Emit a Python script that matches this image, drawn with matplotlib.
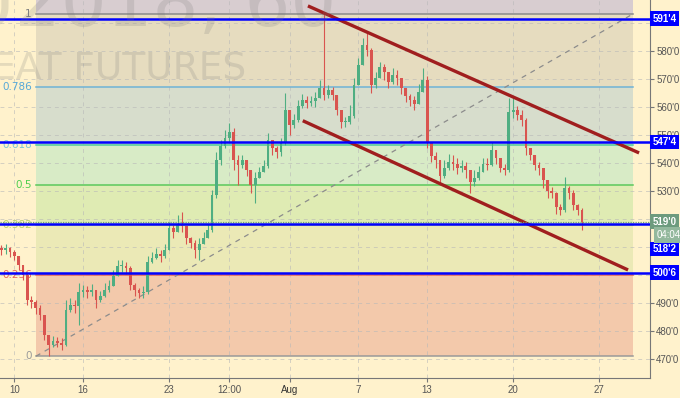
import numpy as np
import matplotlib.pyplot as plt
from matplotlib.transforms import blended_transform_factory

# price bars (roughly one bar per quarter of a trading day)
closes = [508.9, 509.6, 508.2, 506.8, 503.6, 500.0, 491.1, 490.4, 488.2, 485.7,
          478.6, 475.0, 476.4, 475.7, 475.0, 487.5, 489.3, 488.9, 493.9, 494.6,
          493.9, 494.6, 491.1, 492.5, 494.6, 496.1, 499.6, 503.2, 503.2, 502.5,
          496.4, 494.6, 493.6, 493.9, 504.6, 506.1, 507.5, 506.8, 508.9, 516.8,
          515.4, 518.2, 517.5, 513.2, 511.4, 508.9, 511.1, 513.2, 516.1, 528.6,
          541.1, 546.1, 548.9, 551.1, 541.1, 539.3, 541.1, 537.5, 532.1, 534.6,
          536.8, 538.9, 548.2, 545.4, 543.9, 547.5, 558.9, 553.6, 555.4, 560.4,
          562.5, 561.4, 562.1, 563.2, 566.8, 564.3, 566.1, 564.3, 558.9, 554.6,
          554.6, 556.8, 567.9, 575.0, 582.1, 580.4, 567.9, 570.4, 574.3, 572.5,
          568.9, 571.4, 570.4, 566.8, 564.0, 562.5, 561.1, 565.4, 569.6, 547.5,
          542.5, 541.1, 535.4, 538.2, 540.4, 539.6, 538.2, 538.9, 537.5, 533.2,
          534.6, 536.8, 539.6, 539.3, 544.6, 541.8, 538.2, 537.5, 558.2, 558.9,
          557.1, 555.4, 545.4, 542.9, 539.3, 538.2, 533.9, 530.0, 529.3, 524.3,
          523.2, 531.1, 529.3, 525.0, 523.2, 519.0]
highs = [510.7, 511.1, 510.0, 508.9, 506.1, 503.2, 501.1, 492.5, 491.1, 489.3,
         484.6, 478.2, 478.2, 477.9, 477.5, 491.1, 491.8, 491.1, 497.1, 496.4,
         496.1, 496.8, 494.6, 494.3, 497.1, 498.2, 501.8, 505.4, 505.4, 504.6,
         503.2, 497.1, 495.4, 496.1, 506.8, 508.2, 509.6, 508.9, 511.1, 518.9,
         517.9, 521.4, 522.5, 516.8, 513.6, 512.5, 513.2, 515.4, 518.2, 530.4,
         543.9, 548.2, 551.8, 554.3, 552.5, 542.9, 542.9, 541.1, 537.5, 536.8,
         538.6, 541.1, 550.7, 548.2, 546.1, 548.9, 565.0, 558.2, 557.5, 562.5,
         564.6, 563.9, 563.9, 565.4, 569.6, 593.25, 567.9, 567.1, 562.5, 558.2,
         556.4, 560.7, 570.4, 577.5, 584.6, 586.4, 581.1, 572.5, 576.1, 575.4,
         571.8, 573.9, 573.2, 570.4, 566.1, 564.6, 563.9, 568.2, 573.9, 571.1,
         546.8, 543.9, 539.6, 541.1, 543.2, 542.9, 541.8, 541.1, 540.4, 537.5,
         537.5, 538.9, 541.8, 541.8, 547.5, 544.6, 541.1, 539.6, 563.2, 563.2,
         560.4, 558.9, 556.1, 545.4, 541.8, 540.4, 537.5, 533.2, 531.4, 529.6,
         525.4, 535.0, 531.8, 530.4, 525.4, 523.9]
lows = [507.1, 507.5, 506.4, 505.4, 501.8, 498.2, 489.3, 488.2, 486.1, 483.9,
        476.8, 471.0, 474.3, 474.3, 473.2, 474.6, 486.8, 486.4, 482.1, 492.1,
        491.8, 492.5, 488.2, 490.4, 492.1, 493.9, 496.8, 500.4, 501.1, 500.4,
        494.6, 492.5, 491.8, 491.8, 493.2, 504.3, 505.7, 504.6, 506.1, 508.9,
        513.2, 515.4, 515.4, 511.1, 509.6, 506.1, 505.4, 511.1, 513.2, 515.4,
        527.5, 539.3, 545.4, 547.5, 537.5, 532.1, 538.2, 535.4, 529.3, 525.7,
        534.6, 536.8, 538.2, 542.9, 541.8, 542.5, 546.4, 550.0, 552.5, 554.6,
        559.6, 559.6, 560.4, 560.0, 563.9, 562.5, 563.2, 562.5, 557.1, 552.5,
        552.9, 553.9, 556.1, 568.9, 575.4, 578.2, 565.0, 566.8, 571.1, 569.6,
        566.8, 568.2, 567.9, 564.6, 561.8, 560.4, 558.9, 562.5, 565.4, 545.4,
        540.4, 538.2, 532.5, 534.6, 537.5, 537.5, 536.1, 536.8, 534.6, 529.3,
        531.8, 533.9, 537.5, 537.5, 538.9, 539.6, 536.8, 535.7, 536.8, 556.1,
        555.4, 553.2, 542.9, 541.1, 537.5, 535.7, 531.1, 527.5, 527.5, 521.8,
        521.4, 522.5, 527.1, 523.2, 521.4, 516.1]
first_open = 509.5

# x axis: trading days counted from Jul 10
tick_days = [0, 4, 9, 12.48, 16, 20, 24, 29, 34]
tick_labels = ['10', '16', '23', '12:00', 'Aug', '7', '13', '20', '27']
price_ticks = list(range(470, 600, 10))
hidden_ticks = [500, 510, 520, 590]   # sit under the price tags

# fibonacci retracement (low anchor -> high anchor)
fib_low = (1.26, 471.0)
fib_high = (35.97, 593.25)
fib_levels = [0, 0.236, 0.382, 0.5, 0.618, 0.786, 1, 1.618]
fib_text = ['0', '0.236', '0.382', '0.5', '0.618', '0.786', '1', '']
fib_line_col = ['#9a9a9a', '#e8665c', '#b7d36a', '#5cc95c', '#4fc9a0', '#6fb3d6', '#8a8a8a', '#8a8a8a']
fib_text_col = ['#9a9a9a', '#e8665c', '#b7d36a', '#4fcf4f', '#7cc6d6', '#55a8d8', '#808080', '#808080']
fib_zone_col = ['#f3c9ab', '#ebe9b6', '#dfebb3', '#d8ebc6', '#d7ddcc', '#e6dcbf', '#d8cdd0']

# drawn channel
upper_x, upper_y = [17.07, 36.32], [596.1, 543.6]
lower_x, lower_y = [16.77, 35.68], [555.1, 501.8]

# horizontal levels
level_prices = [591.5, 547.5, 518.25, 500.75]
level_labels = ["591'4", "547'4", "518'2", "500'6"]
last_price = 519.0

bg = '#fff2cc'
axfont = 'Liberation Sans'
fig = plt.figure(figsize=(6.8, 3.98), dpi=100, facecolor=bg)
ax = fig.add_axes([0, 20 / 398, 650 / 680, 378 / 398])
ax.set_facecolor(bg)
ax.set_xlim(-0.831, 36.955)
ax.set_ylim(463.21, 598.21)

# watermark
fig.text(336 / 680, 1 - 26 / 398, 'ZWU2018, 60', fontsize=52, ha='right', va='baseline',
         color='#7a7a7a', alpha=0.2, zorder=1)
fig.text(246 / 680, 1 - 80 / 398, 'WHEAT FUTURES', fontsize=27, ha='right', va='baseline',
         color='#7a7a7a', alpha=0.2, zorder=1)

# fib zones and lines
rng = fib_high[1] - fib_low[1]
fx = [fib_low[0], fib_high[0]]
fprices = [fib_low[1] + lv * rng for lv in fib_levels]
for k in range(len(fib_zone_col)):
    ax.fill_between(fx, fprices[k], fprices[k + 1], color=fib_zone_col[k], lw=0, zorder=0.5)
for k in range(len(fib_levels) - 1):
    ax.plot(fx, [fprices[k]] * 2, color=fib_line_col[k], lw=1.1, zorder=2)
    ax.annotate(fib_text[k], (fx[0], fprices[k]), xytext=(-3, 0), textcoords='offset points',
                ha='right', va='center', fontsize=7.5, color=fib_text_col[k], zorder=2)
ax.plot(fx, [fib_low[1], fib_high[1]], color='#8c8c8c', lw=0.9, ls=(0, (4, 4)), zorder=2)

# grid
ax.set_xticks(tick_days)
ax.set_xticklabels(tick_labels, family=axfont)
ax.set_yticks(price_ticks)
ax.yaxis.set_major_formatter(plt.FuncFormatter(
    lambda v, p: '' if int(round(v)) in hidden_ticks else f"{int(round(v))}'0"))
ax.grid(True, color='#b8b8b8', lw=0.7, ls=(0, (4, 4)), alpha=0.6)

# candles
closes = np.array(closes)
opens = np.r_[first_open, closes[:-1]]
x = -0.75 + 0.25 * np.arange(len(closes))
hi = np.maximum(np.array(highs), np.maximum(opens, closes))
lo = np.minimum(np.array(lows), np.minimum(opens, closes))
cols = np.where(closes >= opens, '#4fae82', '#d9544f')
ax.vlines(x, lo, hi, colors=cols, lw=0.8, zorder=3)
body = np.maximum(np.abs(closes - opens), 0.35)
ax.bar(x, body, bottom=np.minimum(opens, closes), width=0.16, color=cols, lw=0, zorder=3)

# channel
ax.plot(upper_x, upper_y, color='#a01e1e', lw=2.4, solid_capstyle='butt', zorder=4)
ax.plot(lower_x, lower_y, color='#a01e1e', lw=2.4, solid_capstyle='butt', zorder=4)

# horizontal levels + last price
ax.axhline(last_price, color='#6aa07c', lw=0.9, ls=(0, (1, 1)), zorder=4)
for p in level_prices:
    ax.axhline(p, color='#0000ff', lw=1.8, zorder=4.5)

# axes look
for s in ['top', 'left']:
    ax.spines[s].set_visible(False)
for s in ['right', 'bottom']:
    ax.spines[s].set_color('#777777')
ax.yaxis.tick_right()
ax.tick_params(axis='y', length=3, color='#777777', labelsize=7, labelcolor='#555555', pad=1.5)
ax.tick_params(axis='x', length=3, color='#777777', labelsize=7, labelcolor='#555555', pad=2)
for t in ax.get_yticklabels():
    t.set_family(axfont)
for t in ax.get_xticklabels():
    if t.get_text() == 'Aug':
        t.set_color('#333333')

# right axis price tags
tr = blended_transform_factory(ax.transAxes, ax.transData)
tag_y = [591.5, 547.5, 509.3, 500.75]
for ty, lab in zip(tag_y, level_labels):
    ax.text(1.004, ty, lab, transform=tr, ha='left', va='center', fontsize=7, color='white',
            family=axfont, fontweight='bold', clip_on=False, zorder=10,
            bbox=dict(boxstyle='square,pad=0.25', fc='#0000ff', ec='none'))
ax.text(1.004, last_price, "519'0", transform=tr, ha='left', va='center', fontsize=7,
        color='white', family=axfont, fontweight='bold', clip_on=False, zorder=10,
        bbox=dict(boxstyle='square,pad=0.25', fc='#6d9b7e', ec='none'))
ax.text(1.01, 514.2, '04:04', transform=tr, ha='left', va='center', fontsize=7,
        color='white', family=axfont, clip_on=False, zorder=10,
        bbox=dict(boxstyle='square,pad=0.3', fc='#93b89d', ec='none'))

fig.savefig('out.png', dpi=100, facecolor=bg)
